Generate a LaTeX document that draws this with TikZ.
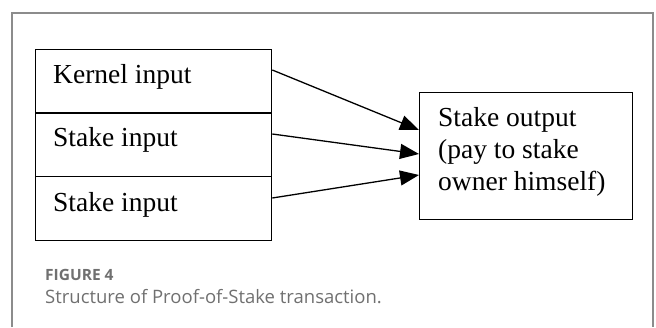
\documentclass[tikz,border=0pt]{standalone}
\usepackage{fontspec}
\setmainfont{Liberation Serif}
\newfontfamily\capfont{Open Sans}
\usetikzlibrary{arrows.meta}
\definecolor{framegray}{HTML}{8C8C8C}
\definecolor{capgray}{HTML}{707070}
\tikzset{
  fieldbox/.style={draw=black, line width=1.3pt, minimum width=236pt, minimum height=64pt,
    inner sep=0pt, anchor=north west},
  outbox/.style={draw=black, line width=1.3pt, minimum width=213pt, minimum height=127pt,
    inner sep=0pt, anchor=north west},
  boxtext/.style={font=\fontsize{27.5}{32}\selectfont, inner sep=0pt, anchor=base west},
  flow/.style={line width=1.3pt, -{Triangle[length=19pt,width=15pt]}},
}
\begin{document}
\begin{tikzpicture}[x=1pt,y=1pt]
  \useasboundingbox (0,0) rectangle (656,327);
  % card frame, open at the bottom
  \draw[framegray, line width=1.2pt] (12,0) -- (12,314) -- (653,314) -- (653,0);

  % transaction inputs
  \node[fieldbox] (kin) at (35,278) {};
  \node[fieldbox] (sin1) at (35,215) {};
  \node[fieldbox] (sin2) at (35,151) {};
  \node[boxtext] (tkin) at ([xshift=18pt,yshift=-35pt]kin.north west) {Kernel input};
  \node[boxtext] (tsin1) at ([xshift=18pt,yshift=-35pt]sin1.north west) {Stake input};
  \node[boxtext] (tsin2) at ([xshift=18pt,yshift=-35pt]sin2.north west) {Stake input};

  % transaction output
  \node[outbox] (sout) at (419,235) {};
  \node[boxtext] (tsout) at ([xshift=19pt,yshift=-35pt]sout.north west)
    {\begin{tabular}[t]{@{}l@{}}Stake output\\(pay to stake\\owner himself)\end{tabular}};

  % connectors
  \draw[flow] ([yshift=-21pt]kin.north east) -- ([yshift=-38pt]sout.north west);
  \draw[flow] ([yshift=-22pt]sin1.north east) -- ([yshift=-62pt]sout.north west);
  \draw[flow] ([yshift=-22pt]sin2.north east) -- ([yshift=-83pt]sout.north west);

  % caption
  \node[font=\capfont\bfseries\fontsize{15.5}{18}\selectfont, text=capgray, anchor=base west, inner sep=0pt]
    (fig) at (45,47) {FIGURE 4};
  \node[font=\capfont\fontsize{18.5}{21}\selectfont, text=capgray, anchor=base west, inner sep=0pt]
    (cap) at (45,24) {Structure of Proof-of-Stake transaction.};
\end{tikzpicture}
\end{document}
